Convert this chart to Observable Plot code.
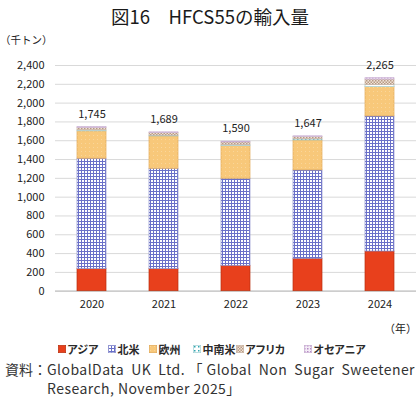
<!DOCTYPE html>
<html><head><meta charset="utf-8">
<script src="https://cdn.jsdelivr.net/npm/d3@7"></script>
<script src="https://cdn.jsdelivr.net/npm/@observablehq/plot@0.6"></script>
<style>
body{margin:0;width:420px;height:398px;background:#fff;position:relative;overflow:hidden;font-family:"Noto Sans CJK JP","Noto Sans",sans-serif;color:#222}
#title{position:absolute;left:0;top:3px;width:420px;text-align:center;font-size:18.5px;line-height:26px;font-weight:400;color:#1a1a1a}
#unit{position:absolute;left:0;top:33px;font-size:10.5px;line-height:14px}
#chart{position:absolute;left:0;top:50px}
#yearUnit{position:absolute;right:3px;top:320px;font-size:11px;line-height:16px}
#legend{position:absolute;left:0;top:341px;width:420px;height:16px;font-size:11px;font-weight:bold;line-height:16px;font-feature-settings:"palt";color:#2a2a2a}
.item{position:absolute;top:0;display:flex;align-items:center;white-space:nowrap}
.item svg{margin-right:1.5px}
#source{position:absolute;left:5px;top:360px;width:410px;font-size:14px;line-height:19px;color:#333;display:flex;letter-spacing:0.45px}
#source .lab{flex:0 0 38px;white-space:nowrap;letter-spacing:0}
#source .txt{flex:1;text-align:justify;text-align-last:left}
</style></head><body>
<svg width="0" height="0" style="position:absolute">
<defs>
<pattern id="p-na" width="3" height="3" patternUnits="userSpaceOnUse">
<rect width="3" height="3" fill="#fff"/>
<path d="M0,0.5H3M0.5,0V3" stroke="#6a70c8" stroke-width="1"/>
</pattern>
<pattern id="p-eu" width="4" height="4" patternUnits="userSpaceOnUse">
<rect width="4" height="4" fill="#f8c87a"/>
<rect x="1" y="1" width="1" height="1" fill="#fad69a"/>
</pattern>
<pattern id="p-la" width="4" height="4" patternUnits="userSpaceOnUse">
<rect width="4" height="4" fill="#fff"/>
<rect x="1" y="1" width="1.5" height="1.5" fill="#2fa6b0"/>
</pattern>
<pattern id="p-af" width="3" height="3" patternUnits="userSpaceOnUse">
<rect width="3" height="3" fill="#efe2d6"/>
<rect x="0" y="0" width="1.5" height="1.5" fill="#b89a84"/>
<rect x="1.5" y="1.5" width="1.5" height="1.5" fill="#b89a84"/>
</pattern>
<pattern id="p-oc" width="3" height="3" patternUnits="userSpaceOnUse">
<rect width="3" height="3" fill="#f4ecf6"/>
<rect x="0" y="0" width="1.5" height="1.5" fill="#b58ac4"/>
</pattern>
</defs>
</svg>
<div id="title">図16　HFCS55の輸入量</div>
<div id="unit">（千トン）</div>
<div id="chart"></div>
<div id="yearUnit">（年）</div>
<div id="legend"></div>
<div id="source"><span class="lab">資料：</span><span class="txt">GlobalData UK Ltd.「Global Non Sugar Sweetener Research, November 2025」</span></div>
<script>
const years = ["2020", "2021", "2022", "2023", "2024"];
const regions = ["アジア", "北米", "欧州", "中南米", "アフリカ", "オセアニア"];
const asia = [235, 235, 270, 345, 422];
const northAmerica = [1174, 1067, 926, 940, 1437];
const europe = [291, 344, 346, 318, 311];
const latinAmerica = [10, 8, 10, 12, 22];
const africa = [25, 27, 30, 24, 58];
const oceania = [10, 8, 8, 8, 15];
const totals = [1745, 1689, 1590, 1647, 2265];
const yTicks = [0, 200, 400, 600, 800, 1000, 1200, 1400, 1600, 1800, 2000, 2200, 2400];

const series = [asia, northAmerica, europe, latinAmerica, africa, oceania];
const fills = {"アジア": "#e8401c", "北米": "url(#p-na)", "欧州": "url(#p-eu)", "中南米": "url(#p-la)", "アフリカ": "url(#p-af)", "オセアニア": "url(#p-oc)"};
const strokes = {"アジア": "#b8300f", "北米": "#8f93cf", "欧州": "#e2aa58", "中南米": "#9fcfd3", "アフリカ": "#c9b2a2", "オセアニア": "#c8aed2"};

const rows = regions.flatMap((r, i) => years.map((y, j) => ({year: y, region: r, value: series[i][j]})));
const totalRows = years.map((y, j) => ({year: y, total: totals[j]}));
const fmt = d3.format(",");

const chart = Plot.plot({
  width: 420, height: 268,
  marginTop: 15, marginLeft: 55, marginRight: 4, marginBottom: 27.3,
  style: {fontSize: "11px", fontFamily: "'Noto Sans CJK JP','Noto Sans',sans-serif", color: "#222", background: "transparent"},
  x: {domain: years, paddingInner: 0.6, paddingOuter: 0.3, label: null, tickSize: 0, tickPadding: 9},
  y: {domain: [0, 2400], ticks: yTicks, tickFormat: fmt, tickSize: 0, tickPadding: 11, label: null},
  color: {type: "identity"},
  marks: [
    Plot.gridY(yTicks, {stroke: "#d9d9d9", strokeOpacity: 1}),
    Plot.ruleY([0], {stroke: "#c4c4c4", strokeWidth: 1.2}),
    Plot.barY(rows, Plot.stackY({x: "year", y: "value", z: "region", order: regions,
      fill: d => fills[d.region], stroke: d => strokes[d.region], strokeWidth: 0.7})),
    Plot.text(totalRows, {x: "year", y: "total", text: d => fmt(d.total), dy: -13, fontSize: 11, fill: "#222"})
  ]
});
document.getElementById("chart").appendChild(chart);

const legendX = [58, 108, 149, 193, 236, 304];
const legend = document.getElementById("legend");
regions.forEach((r, i) => {
  const it = document.createElement("div");
  it.className = "item";
  it.style.left = legendX[i] + "px";
  it.innerHTML = `<svg width="8" height="8"><rect x="0.35" y="0.35" width="7.3" height="7.3" fill="${fills[r]}" stroke="${strokes[r]}" stroke-width="0.7"/></svg><span>${r}</span>`;
  legend.appendChild(it);
});
</script>
</body></html>
